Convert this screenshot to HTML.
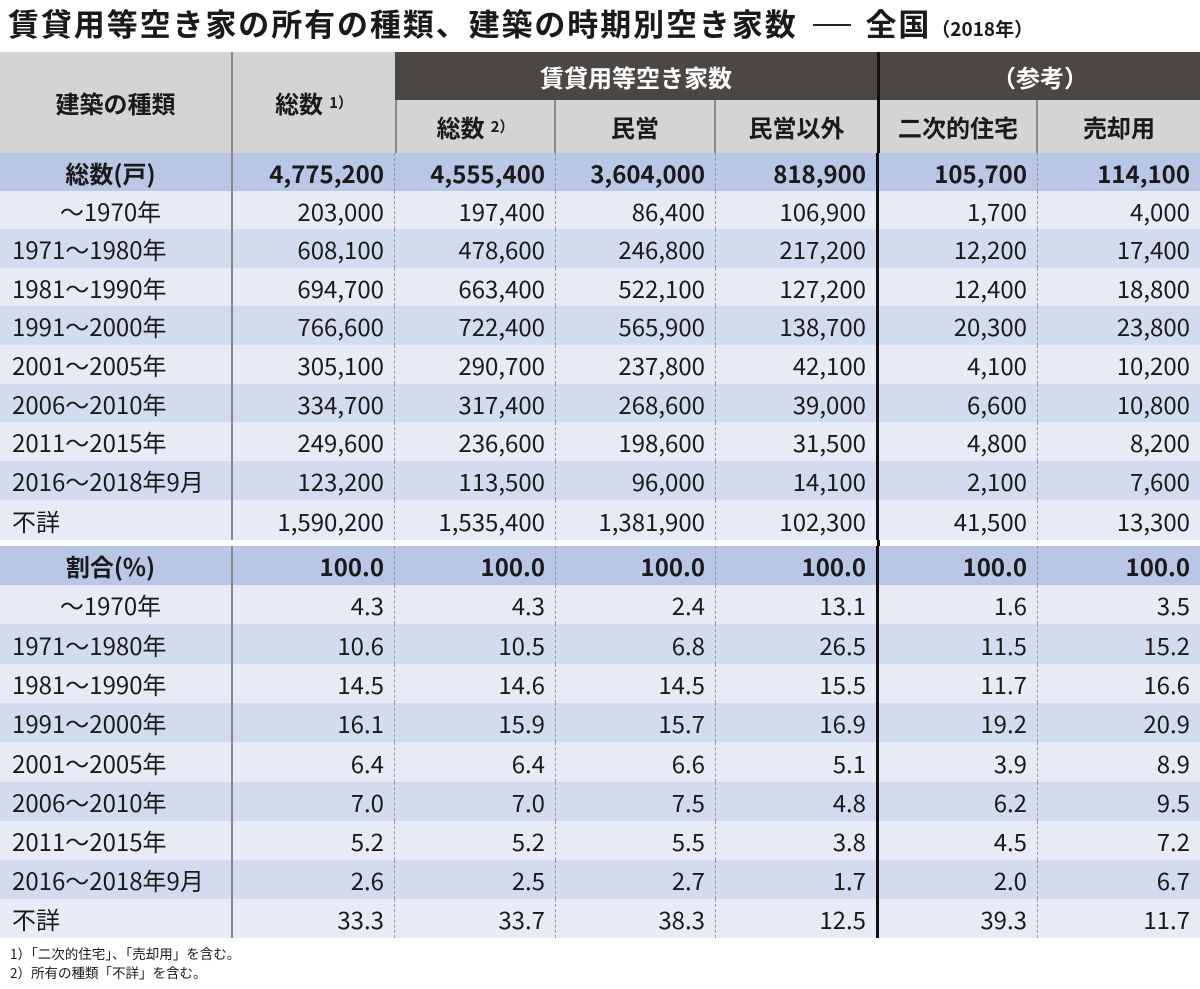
<!DOCTYPE html>
<html><head><meta charset="utf-8"><style>
*{margin:0;padding:0;box-sizing:border-box}
body{width:1200px;height:989px;background:#fff;position:relative;overflow:hidden;font-family:"Noto Sans CJK JP","Liberation Sans",sans-serif;color:#1a1a1a}
.title{position:absolute;left:8px;top:0px;font-size:31px;font-weight:bold;white-space:nowrap;letter-spacing:1.9px;line-height:46px}
.title small{font-size:19px;font-weight:bold;letter-spacing:0}
.row{position:absolute;left:0;width:1200px;display:flex;font-size:24px;align-items:center}
.row div{height:100%;display:flex;align-items:center;justify-content:flex-end;padding-right:10px;border-right:1.5px dashed #999}
.row div:nth-child(1){width:233px;justify-content:flex-start;padding-left:12px;border-right:2px solid #888}
.row div:nth-child(2){width:162px}
.row div:nth-child(3){width:161px}
.row div:nth-child(4){width:160px}
.row div:nth-child(5){width:163px;border-right:3px solid #111}
.row div:nth-child(6){width:159px}
.row div:nth-child(7){width:162px;border-right:none}
.row div.c{justify-content:center;padding-left:0}
.b{background:#b9c6e5;font-weight:bold}
.l{background:#e7ebf6}
.d{background:#d3dbee}
.hd{position:absolute;display:flex;align-items:center;justify-content:center;font-size:24px;font-weight:bold}
.g{background:#d4d4d4;color:#1a1a1a}
.k{background:#4b4745;color:#fff}
.hd sup{font-size:15px;vertical-align:4px;margin-left:6px;font-weight:bold}
.foot{position:absolute;left:10px;font-size:13.5px}
</style></head><body>
<div class="title">賃貸用等空き家の所有の種類、建築の時期別空き家数 <span style="display:inline-block;width:38px;border-top:2px solid #222;vertical-align:10px;margin:0 6px"></span> 全国<small>（2018年）</small></div>

<div class="hd g" style="left:0;top:52px;width:233px;height:101px;border-right:2px solid #888">建築の種類</div>
<div class="hd g" style="left:233px;top:52px;width:162px;height:101px">総数<sup>1）</sup></div>
<div class="hd k" style="left:395px;top:52px;width:482px;height:48px">賃貸用等空き家数</div>
<div class="hd k" style="left:877px;top:52px;width:323px;height:48px;border-left:3px solid #111">（参考）</div>
<div class="hd g" style="left:395px;top:100px;width:161px;height:53px;border-left:2px solid #888;border-right:2px solid #888">総数<sup>2）</sup></div>
<div class="hd g" style="left:556px;top:100px;width:160px;height:53px;border-right:2px solid #888">民営</div>
<div class="hd g" style="left:716px;top:100px;width:161px;height:53px">民営以外</div>
<div class="hd g" style="left:877px;top:100px;width:161px;height:53px;border-left:3px solid #111;border-right:2px solid #888">二次的住宅</div>
<div class="hd g" style="left:1038px;top:100px;width:162px;height:53px">売却用</div>

<div class="row b" style="top:153px;height:38px"><div class="c">総数(戸)</div><div>4,775,200</div><div>4,555,400</div><div>3,604,000</div><div>818,900</div><div>105,700</div><div>114,100</div></div>
<div class="row l" style="top:191px;height:38px"><div class="c">～1970年</div><div>203,000</div><div>197,400</div><div>86,400</div><div>106,900</div><div>1,700</div><div>4,000</div></div>
<div class="row d" style="top:229px;height:39px"><div>1971～1980年</div><div>608,100</div><div>478,600</div><div>246,800</div><div>217,200</div><div>12,200</div><div>17,400</div></div>
<div class="row l" style="top:268px;height:38px"><div>1981～1990年</div><div>694,700</div><div>663,400</div><div>522,100</div><div>127,200</div><div>12,400</div><div>18,800</div></div>
<div class="row d" style="top:306px;height:39px"><div>1991～2000年</div><div>766,600</div><div>722,400</div><div>565,900</div><div>138,700</div><div>20,300</div><div>23,800</div></div>
<div class="row l" style="top:345px;height:39px"><div>2001～2005年</div><div>305,100</div><div>290,700</div><div>237,800</div><div>42,100</div><div>4,100</div><div>10,200</div></div>
<div class="row d" style="top:384px;height:38px"><div>2006～2010年</div><div>334,700</div><div>317,400</div><div>268,600</div><div>39,000</div><div>6,600</div><div>10,800</div></div>
<div class="row l" style="top:422px;height:39px"><div>2011～2015年</div><div>249,600</div><div>236,600</div><div>198,600</div><div>31,500</div><div>4,800</div><div>8,200</div></div>
<div class="row d" style="top:461px;height:39px"><div>2016～2018年9月</div><div>123,200</div><div>113,500</div><div>96,000</div><div>14,100</div><div>2,100</div><div>7,600</div></div>
<div class="row l" style="top:500px;height:40px"><div>不詳</div><div>1,590,200</div><div>1,535,400</div><div>1,381,900</div><div>102,300</div><div>41,500</div><div>13,300</div></div>
<div style="position:absolute;left:877px;top:540px;width:3px;height:6px;background:#111"></div>

<div class="row b" style="top:546px;height:39px"><div class="c">割合(%)</div><div>100.0</div><div>100.0</div><div>100.0</div><div>100.0</div><div>100.0</div><div>100.0</div></div>
<div class="row l" style="top:585px;height:39px"><div class="c">～1970年</div><div>4.3</div><div>4.3</div><div>2.4</div><div>13.1</div><div>1.6</div><div>3.5</div></div>
<div class="row d" style="top:624px;height:40px"><div>1971～1980年</div><div>10.6</div><div>10.5</div><div>6.8</div><div>26.5</div><div>11.5</div><div>15.2</div></div>
<div class="row l" style="top:664px;height:39px"><div>1981～1990年</div><div>14.5</div><div>14.6</div><div>14.5</div><div>15.5</div><div>11.7</div><div>16.6</div></div>
<div class="row d" style="top:703px;height:39px"><div>1991～2000年</div><div>16.1</div><div>15.9</div><div>15.7</div><div>16.9</div><div>19.2</div><div>20.9</div></div>
<div class="row l" style="top:742px;height:40px"><div>2001～2005年</div><div>6.4</div><div>6.4</div><div>6.6</div><div>5.1</div><div>3.9</div><div>8.9</div></div>
<div class="row d" style="top:782px;height:39px"><div>2006～2010年</div><div>7.0</div><div>7.0</div><div>7.5</div><div>4.8</div><div>6.2</div><div>9.5</div></div>
<div class="row l" style="top:821px;height:39px"><div>2011～2015年</div><div>5.2</div><div>5.2</div><div>5.5</div><div>3.8</div><div>4.5</div><div>7.2</div></div>
<div class="row d" style="top:860px;height:39px"><div>2016～2018年9月</div><div>2.6</div><div>2.5</div><div>2.7</div><div>1.7</div><div>2.0</div><div>6.7</div></div>
<div class="row l" style="top:899px;height:39px"><div>不詳</div><div>33.3</div><div>33.7</div><div>38.3</div><div>12.5</div><div>39.3</div><div>11.7</div></div>

<div class="foot" style="top:943px">1）「二次的住宅」、「売却用」を含む。</div>
<div class="foot" style="top:962px">2）所有の種類「不詳」を含む。</div>
</body></html>
